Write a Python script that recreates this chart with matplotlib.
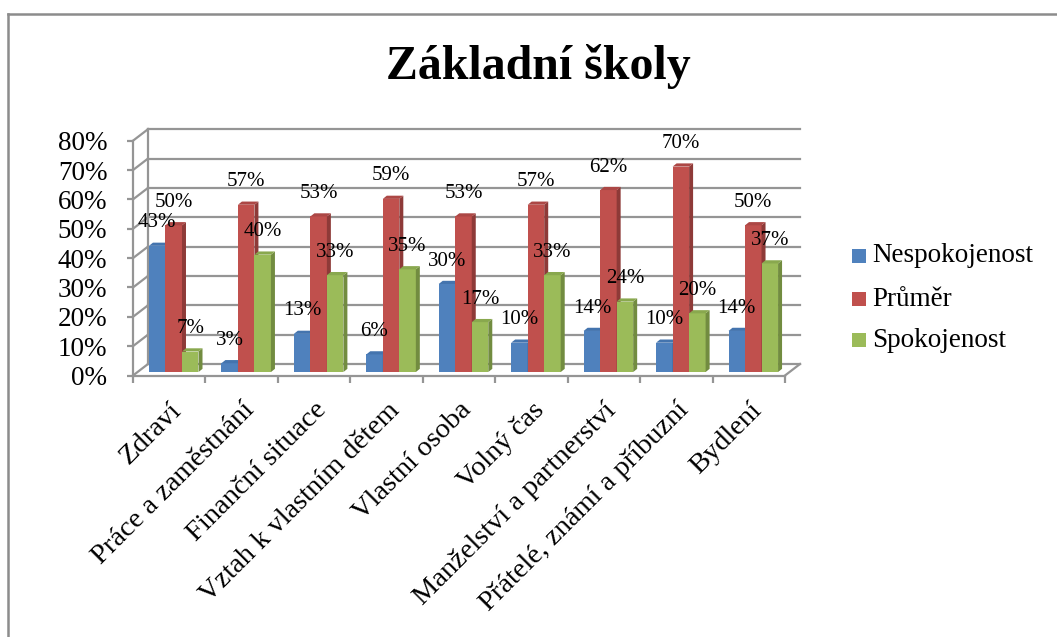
import matplotlib
matplotlib.use("Agg")
import matplotlib.pyplot as plt
from matplotlib.patches import Polygon, Rectangle
from matplotlib.lines import Line2D
import matplotlib.transforms as mtransforms

plt.rcParams['font.family'] = ['Liberation Serif', 'DejaVu Serif']

title = "Základní školy"
categories = ["Zdraví", "Práce a zaměstnání", "Finanční situace", "Vztah k vlastním dětem",
              "Vlastní osoba", "Volný čas", "Manželství a partnerství",
              "Přátelé, známí a příbuzní", "Bydlení"]
series_names = ["Nespokojenost", "Průměr", "Spokojenost"]
nespokojenost = [43, 3, 13, 6, 30, 10, 14, 10, 14]
prumer = [50, 57, 53, 59, 53, 57, 62, 70, 50]
spokojenost = [7, 40, 33, 35, 17, 33, 24, 20, 37]
yticks = [0, 10, 20, 30, 40, 50, 60, 70, 80]

series = [nespokojenost, prumer, spokojenost]
front_colors = ["#4F81BD", "#C0504D", "#9BBB59"]
side_colors = ["#3A6496", "#8E3A38", "#728C40"]
top_colors = ["#4474AE", "#AC4745", "#89A84E"]

W, H = 1057, 637
fig = plt.figure(figsize=(W / 100, H / 100), dpi=100)

def fx(x):
    return x / W

def fy(y):
    return 1 - y / H

# front plane of the plot: x 133..785 px, y 375.5 (0%) .. 140.7 (80%)
x0p, x1p, y0p, y1p = 133, 785, 375.5, 140.7
ax = fig.add_axes([fx(x0p), fy(y0p), fx(x1p) - fx(x0p), fy(y1p) - fy(y0p)])
ax.set_xlim(0, 9)
ax.set_ylim(0, 80)
for s in ax.spines.values():
    s.set_visible(False)
ax.patch.set_visible(False)

ncat = len(categories)
px_per_cat = (x1p - x0p) / ncat
px_per_pct = (y0p - y1p) / 80.0
DX = 15 / px_per_cat      # depth offset in data x
DY = 11.5 / px_per_pct    # depth offset in data y

grid_c = "#959595"
lw = 1.6

# back wall gridlines and left wall diagonals
for v in yticks:
    ax.add_line(Line2D([DX, ncat + DX], [v + DY, v + DY], color=grid_c, lw=lw, zorder=1, clip_on=False))
    ax.add_line(Line2D([0, DX], [v, v + DY], color=grid_c, lw=lw, zorder=1, clip_on=False))
ax.add_line(Line2D([DX, DX], [DY, 80 + DY], color=grid_c, lw=lw, zorder=1, clip_on=False))
# floor
ax.add_line(Line2D([0, ncat], [0, 0], color=grid_c, lw=lw, zorder=1, clip_on=False))
ax.add_line(Line2D([ncat, ncat + DX], [0, DY], color=grid_c, lw=lw, zorder=1, clip_on=False))
# front y axis
ax.add_line(Line2D([0, 0], [0, 80], color=grid_c, lw=lw, zorder=1, clip_on=False))

# ticks
ax.set_yticks(yticks)
ax.set_yticklabels([f"{v}%" for v in yticks], fontsize=19.5)
ax.set_xticks(range(ncat + 1))
ax.set_xticklabels([])
ax.tick_params(axis='y', length=4.5, width=lw, color=grid_c, pad=14)
ax.tick_params(axis='x', length=5, width=lw, color=grid_c)

# bars
bw = 0.228
gap = 1 - 3 * bw
f = 0.3
bdx = 4 / px_per_cat
bdy = 3.2 / px_per_pct
z = 3
for i in range(ncat):
    for j, vals in enumerate(series):
        v = vals[i]
        xl = i + gap / 2 + j * bw + f * DX
        yb = f * DY
        ax.bar([xl], [v], width=bw, bottom=yb, align='edge', color=front_colors[j],
               linewidth=0, zorder=z)
        side = Polygon([(xl + bw, yb), (xl + bw + bdx, yb + bdy), (xl + bw + bdx, yb + v + bdy),
                        (xl + bw, yb + v)], closed=True, facecolor=side_colors[j],
                       edgecolor='none', zorder=z)
        top = Polygon([(xl, yb + v), (xl + bw, yb + v), (xl + bw + bdx, yb + v + bdy),
                       (xl + bdx, yb + v + bdy)], closed=True, facecolor=top_colors[j],
                      edgecolor='none', zorder=z)
        ax.add_patch(side)
        ax.add_patch(top)
        z += 1

# data labels
for i in range(ncat):
    for j, vals in enumerate(series):
        v = vals[i]
        xc = i + gap / 2 + j * bw + f * DX + bw / 2
        ax.annotate(f"{v}%", xy=(xc, v + f * DY), xytext=(0, 16.5), textcoords='offset points',
                    ha='center', va='center', fontsize=15, zorder=100)

# category labels
trans = ax.get_xaxis_transform() + mtransforms.ScaledTranslation(9 / 100, -31 / 100, fig.dpi_scale_trans)
for i, c in enumerate(categories):
    ax.text(i + 0.5, 0, c, rotation=45, rotation_mode='anchor', ha='right', va='center',
            fontsize=20.5, transform=trans)

# title
fig.text(fx(538), fy(79), title, ha='center', va='baseline', fontsize=34.5, fontweight='bold')

# legend
leg_rows = [256, 299, 340]
for j, name in enumerate(series_names):
    yc = leg_rows[j]
    fig.patches.append(Rectangle((fx(852), fy(yc + 7)), fx(14), 14 / H, facecolor=front_colors[j],
                                 edgecolor='none', transform=fig.transFigure))
    fig.text(fx(872), fy(yc), name, ha='left', va='center', fontsize=19.5)

# chart border (left and top visible)
fig.add_artist(Line2D([fx(8), fx(8)], [0, fy(13.5)], color="#8c8c8c", lw=1.8, transform=fig.transFigure))
fig.add_artist(Line2D([fx(8), 1], [fy(13.5), fy(13.5)], color="#8c8c8c", lw=1.8, transform=fig.transFigure))

fig.savefig("out.png", dpi=100)
